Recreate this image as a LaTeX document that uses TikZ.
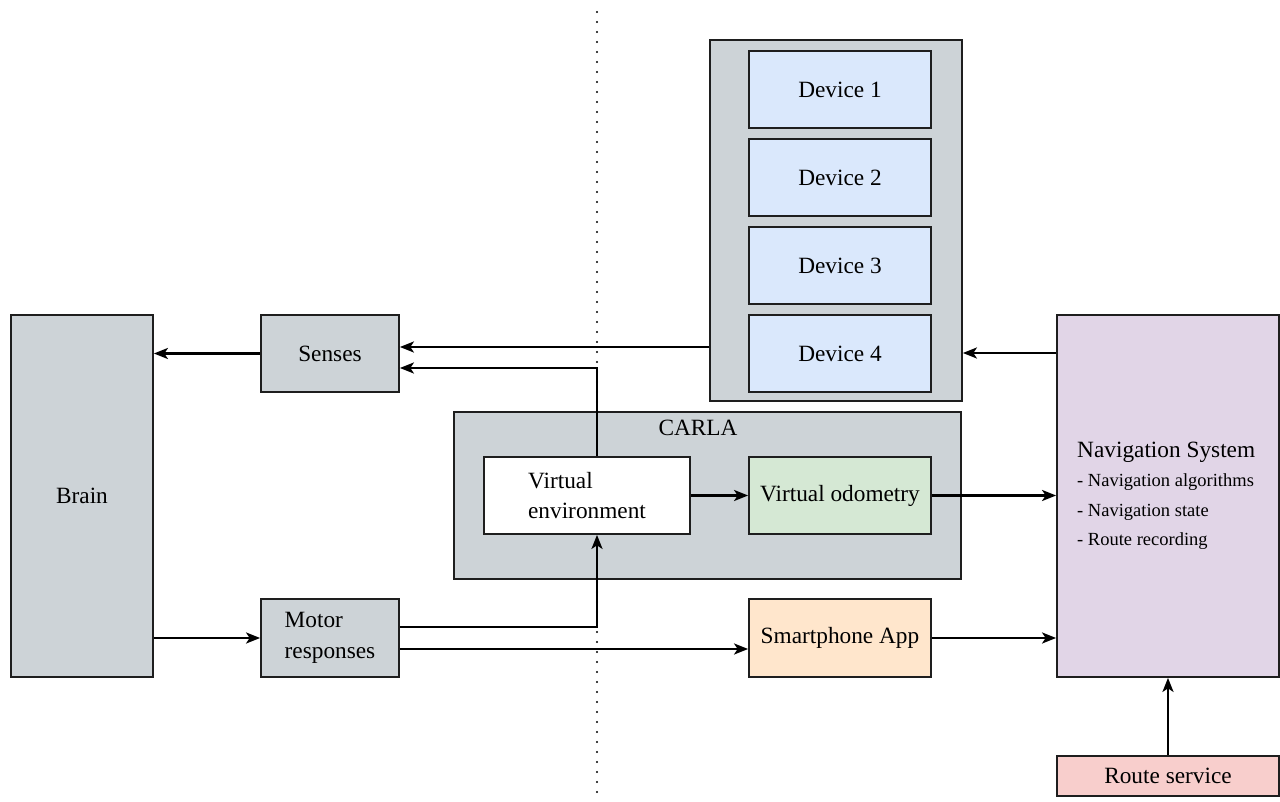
\documentclass[tikz,border=0pt]{standalone}
\usepackage{fontspec}
\setmainfont{Liberation Serif}
\usetikzlibrary{arrows.meta,calc}

\definecolor{edge}{HTML}{1E1E1E}
\definecolor{panelgray}{HTML}{CDD3D7}
\definecolor{devblue}{HTML}{DAE8FC}
\definecolor{odogreen}{HTML}{D5E8D4}
\definecolor{apporange}{HTML}{FFE6CC}
\definecolor{navpurple}{HTML}{E1D5E7}
\definecolor{routered}{HTML}{F8CECC}

\begin{document}
\begin{tikzpicture}[x=1pt,y=-1pt,
  box/.style={draw=edge, line width=1.8pt, inner sep=0pt, align=center,
              font=\fontsize{23.3}{30.5}\selectfont},
  gbox/.style={box, fill=panelgray},
  wh/.style 2 args={minimum width=#1pt, minimum height=#2pt},
  wire/.style={draw=black, line width=2.2pt},
  arr/.style={wire, -{Stealth[length=14pt,width=11pt,inset=3.5pt]}},
  divider/.style={draw=black, line width=2.2pt, line cap=round,
                  dash pattern=on 0pt off 10pt},
  listtext/.style={anchor=base west, inner sep=0pt, font=\fontsize{18.5}{22}\selectfont},
]
\useasboundingbox (0,0) rectangle (1280,802);

% dotted separator between the physical and the virtual side
\coordinate (divtop) at (597,12);
\coordinate (divbot) at (597,802);
\draw[divider] (divtop) -- (divbot);

% left side: brain, senses, motor responses
\node[gbox, wh={142}{362}] (brain) at (82,496) {Brain};
\node[gbox, wh={138}{77}] (senses) at (330,353.5) {Senses};
\node[gbox, wh={138}{78}, align=left] (motor) at (330,638) {Motor\\responses};

% device stack
\node[gbox, wh={252}{361}] (devbox) at (836,220.5) {};
\node[box, fill=devblue, wh={182}{77}] (dev1) at (840,89.5) {Device 1};
\node[box, fill=devblue, wh={182}{77}] (dev2) at (840,177.5) {Device 2};
\node[box, fill=devblue, wh={182}{77}] (dev3) at (840,265.5) {Device 3};
\node[box, fill=devblue, wh={182}{77}] (dev4) at (840,353.5) {Device 4};

% simulator
\node[gbox, wh={507}{167}] (carla) at (707.5,495.5) {};
\node[inner sep=0pt, font=\fontsize{23.3}{28}\selectfont] (carlalabel) at (698,428) {CARLA};
\node[box, fill=white, wh={206}{77}, align=left] (venv) at (587,495.5) {Virtual\\environment};
\node[box, fill=odogreen, wh={182}{77}] (vodo) at (840,495.5) {Virtual odometry};

% smartphone, navigation, route service
\node[box, fill=apporange, wh={182}{78}] (phone) at (840,638) {Smartphone App};
\node[box, fill=navpurple, wh={222}{362}] (nav) at (1168,496) {};
\node[box, fill=routered, wh={222}{40}] (route) at (1168,776) {Route service};

\node[anchor=base west, inner sep=0pt, font=\fontsize{23.3}{28}\selectfont] (navtitle) at (1077,457) {Navigation System};
\node[listtext] (navitem1) at (1077,486) {- Navigation algorithms};
\node[listtext] (navitem2) at (1077,516) {- Navigation state};
\node[listtext] (navitem3) at (1077,545) {- Route recording};

% connectors
\draw[arr] (senses.west) -- (senses.west -| brain.east);
\draw[arr] (brain.east |- motor.west) -- (motor.west);

\coordinate (sensin1) at ([yshift=6.5pt]senses.east);
\coordinate (sensin2) at ([yshift=-14.5pt]senses.east);
\draw[arr] (devbox.west |- sensin1) -- (sensin1);

\coordinate (venvtop) at ([xshift=10pt]venv.north);
\coordinate (venvbot) at ([xshift=10pt]venv.south);
\draw[arr] (venvtop) -- (venvtop |- sensin2) -- (sensin2);

\coordinate (motorout1) at ([yshift=11pt]motor.east);
\coordinate (motorout2) at ([yshift=-11pt]motor.east);
\draw[arr] (motorout1) -- (motorout1 -| venvbot) -- (venvbot);
\draw[arr] (motorout2) -- (motorout2 -| phone.west);

\draw[arr] (venv.east) -- (vodo.west);
\draw[arr] (vodo.east) -- (vodo.east -| nav.west);
\draw[arr] (phone.east) -- (phone.east -| nav.west);

\coordinate (navout) at ([yshift=143pt]nav.west);
\draw[arr] (navout) -- (navout -| devbox.east);

\draw[arr] (route.north) -- (nav.south);
\end{tikzpicture}
\end{document}
